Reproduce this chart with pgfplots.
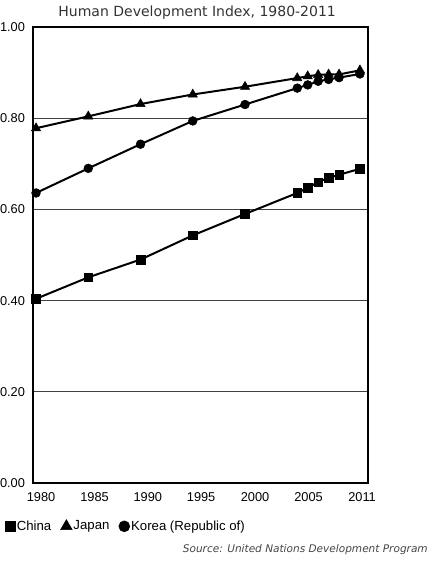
\documentclass[border=0pt]{standalone}
\usepackage{fontspec}
\setmainfont{Liberation Sans}
\newfontfamily\verdana{DejaVu Sans}
\usepackage{pgfplots}
\pgfplotsset{compat=1.18}
\definecolor{titlegray}{HTML}{333333}
\definecolor{srcgray}{HTML}{444444}
\begin{document}
\begin{tikzpicture}
\path[use as bounding box] (0,0) rectangle (322.5pt,420.75pt);
\begin{axis}[
  at={(24.75pt,58.5pt)}, anchor=south west,
  scale only axis, width=251.25pt, height=342pt,
  xmin=1979.71, xmax=2011.77, ymin=0, ymax=1,
  axis line style={line width=2.2pt},
  xtick={1980.48,1985.6,1990.7,1995.8,2000.96,2006.08,2011.2},
  xticklabels={1980,1985,1990,1995,2000,2005,2011},
  ytick={0,0.2,0.4,0.6,0.8,1.0},
  yticklabels={0.00,0.20,0.40,0.60,0.80,1.00},
  major tick length=0pt,
  ymajorgrids, xmajorgrids=false,
  grid style={line width=0.8pt, color=black!75},
  tick label style={font=\fontsize{9.6}{11}\selectfont},
  /pgf/number format/assume math mode=true,
  yticklabel style={xshift=-2.5pt},
  xticklabel style={yshift=-3.8pt},
  every axis title shift=0pt,
  title={Human Development Index, 1980-2011},
  title style={font=\verdana\fontsize{10.5}{12}\selectfont, color=titlegray, at={(axis description cs:0.49,1)}, anchor=base, yshift=7.5pt},
  every axis plot/.append style={line width=1.5pt, black},
  legend style={at={(axis description cs:-0.085,-0.095)}, anchor=west, draw=none, fill=none, legend columns=3,
    font=\fontsize{9.9}{11}\selectfont, /tikz/every even column/.append style={column sep=6pt},
    inner sep=0pt, nodes={inner sep=1pt}},
  legend image code/.code={\draw[#1, every mark/.append style={scale=1.25}] plot coordinates {(0.12cm,0cm)};},
  legend cell align=left,
]
\addplot[mark=square*, mark size=3.2pt, mark options={solid, line width=0.4pt}] coordinates {
(1980,0.404)(1985,0.451)(1990,0.490)(1995,0.543)(2000,0.590)(2005,0.636)(2006,0.647)(2007,0.660)(2008,0.669)(2009,0.676)(2011,0.689)};
\addlegendentry{China}
\addplot[mark=triangle*, mark size=4.0pt, mark options={solid, line width=0.4pt}] coordinates {
(1980,0.778)(1985,0.804)(1990,0.831)(1995,0.852)(2000,0.869)(2005,0.888)(2006,0.892)(2007,0.895)(2008,0.896)(2009,0.896)(2011,0.905)};
\addlegendentry{Japan}
\addplot[mark=*, mark size=3.3pt, mark options={solid, line width=0.4pt}] coordinates {
(1980,0.636)(1985,0.690)(1990,0.743)(1995,0.794)(2000,0.830)(2005,0.866)(2006,0.873)(2007,0.881)(2008,0.885)(2009,0.889)(2011,0.897)};
\addlegendentry{Korea (Republic of)}
\end{axis}
\node[anchor=base east, inner sep=0pt, font=\verdana\itshape\fontsize{7.9}{9}\selectfont, color=srcgray] at (321pt,6pt) {Source: United Nations Development Program};
\end{tikzpicture}
\end{document}
